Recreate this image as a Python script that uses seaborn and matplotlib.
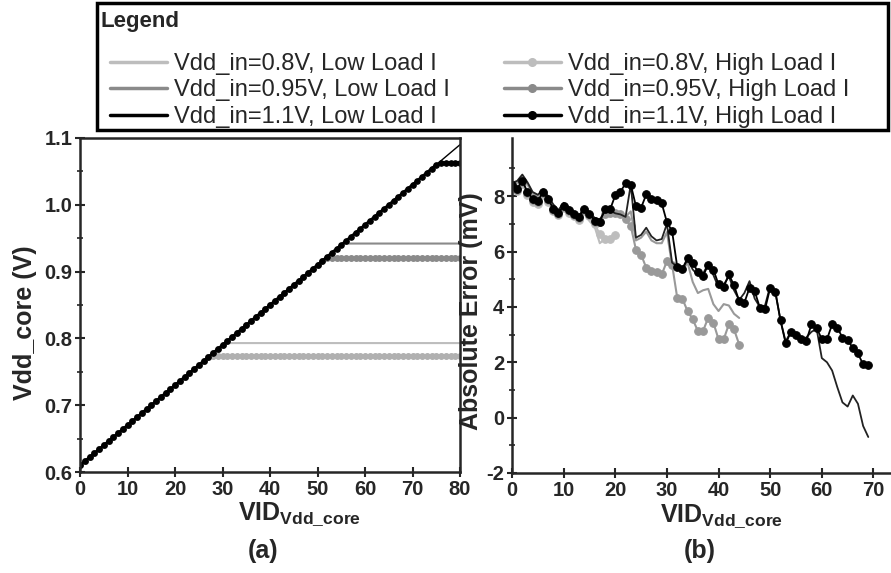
import matplotlib
matplotlib.use("Agg")
import matplotlib.pyplot as plt
import seaborn as sns
from matplotlib.lines import Line2D
from matplotlib.patches import Rectangle

# ---- panel (a): Vdd_core vs VID code ----
vid_a = list(range(81))
ramp_a = [0.610, 0.616, 0.622, 0.628, 0.634, 0.640, 0.646, 0.652, 0.658, 0.664,
          0.670, 0.676, 0.682, 0.688, 0.694, 0.700, 0.706, 0.712, 0.718, 0.724,
          0.730, 0.736, 0.742, 0.748, 0.754, 0.760, 0.766, 0.772, 0.778, 0.784,
          0.790, 0.796, 0.802, 0.808, 0.814, 0.820, 0.826, 0.832, 0.838, 0.844,
          0.850, 0.856, 0.862, 0.868, 0.874, 0.880, 0.886, 0.892, 0.898, 0.904,
          0.910, 0.916, 0.922, 0.928, 0.934, 0.940, 0.946, 0.952, 0.958, 0.964,
          0.970, 0.976, 0.982, 0.988, 0.994, 1.000, 1.006, 1.012, 1.018, 1.024,
          1.030, 1.036, 1.042, 1.048, 1.054, 1.060, 1.066, 1.072, 1.078, 1.084,
          1.090]
# regulated output once the input supply runs out of headroom
a_lo08 = ramp_a[:31] + [0.793] * 50
a_hi08 = ramp_a[:28] + [0.774] * 53
a_lo095 = ramp_a[:56] + [0.942] * 25
a_hi095 = ramp_a[:52] + [0.921] * 29
a_lo11 = ramp_a
a_hi11 = ramp_a[:76] + [1.063] * 5

# ---- panel (b): absolute error (mV) vs VID code ----
b_hi11 = [8.39, 8.27, 8.55, 8.15, 7.90, 7.82, 8.15, 7.90, 7.54, 7.40,
          7.66, 7.49, 7.37, 7.25, 7.54, 7.37, 7.12, 7.07, 7.52, 7.52,
          8.03, 8.16, 8.46, 8.42, 7.64, 7.58, 8.06, 7.90, 7.86, 7.74,
          7.06, 6.74, 5.45, 5.38, 5.76, 5.60, 5.26, 5.11, 5.53, 5.35,
          4.81, 4.73, 5.17, 4.78, 4.21, 4.15, 4.69, 4.57, 3.97, 3.91,
          4.69, 4.53, 3.52, 2.68, 3.09, 2.97, 2.83, 2.77, 3.37, 3.25,
          2.83, 2.83, 3.37, 3.25, 2.89, 2.80, 2.52, 2.32, 1.92, 1.89]
b_lo11 = [8.48, 8.55, 8.78, 8.50, 8.15, 8.05, 8.24, 8.00, 7.70, 7.50,
          7.76, 7.60, 7.40, 7.28, 7.62, 7.40, 7.22, 7.16, 7.45, 7.48,
          7.38, 7.34, 7.25, 8.42, 6.50, 6.60, 6.86, 6.55, 6.40, 6.45,
          7.00, 5.60, 5.45, 5.35, 5.71, 5.35, 5.15, 5.20, 5.55, 5.15,
          4.70, 4.80, 5.10, 4.60, 4.25, 4.50, 4.93, 4.30, 4.00, 4.05,
          4.75, 4.55, 3.50, 2.75, 3.10, 2.95, 2.72, 2.90, 3.10, 3.20,
          2.15, 2.00, 1.70, 1.10, 0.55, 0.40, 0.80, 0.50, -0.30, -0.70]
b_hi095 = [8.35, 8.22, 8.50, 8.10, 7.85, 7.78, 8.10, 7.85, 7.50, 7.36,
           7.62, 7.45, 7.33, 7.20, 7.50, 7.33, 7.08, 7.05, 7.34, 7.40,
           7.38, 7.34, 7.16, 6.92, 6.07, 5.89, 5.41, 5.29, 5.26, 5.17,
           5.65, 5.53, 4.33, 4.29, 3.85, 3.55, 3.13, 3.13, 3.61, 3.43,
           2.83, 2.83, 3.37, 3.19, 2.64]
b_lo095 = [8.42, 8.50, 8.70, 8.45, 8.10, 8.00, 8.20, 7.95, 7.65, 7.45,
           7.70, 7.55, 7.35, 7.22, 7.55, 7.35, 7.18, 7.12, 7.40, 7.42,
           7.35, 7.30, 7.25, 7.45, 6.40, 6.50, 6.72, 6.40, 6.30, 6.30,
           6.70, 5.50, 5.35, 5.30, 5.60, 4.90, 4.50, 4.60, 4.65, 4.10,
           3.85, 4.10, 4.05, 3.75, 3.60]
b_hi08 = [8.30, 8.20, 8.45, 8.05, 7.80, 7.72, 8.05, 7.80, 7.45, 7.32,
          7.58, 7.40, 7.28, 7.15, 7.45, 7.28, 7.00, 6.62, 6.45, 6.45, 6.60]
b_lo08 = [8.40, 8.45, 8.65, 8.40, 8.05, 7.95, 8.15, 7.90, 7.60, 7.40,
          7.65, 7.50, 7.30, 7.18, 7.50, 7.10, 6.90, 6.30, 6.45, 6.35, 6.55]

labels = ["Vdd_in=0.8V, Low Load I", "Vdd_in=0.95V, Low Load I",
          "Vdd_in=1.1V, Low Load I", "Vdd_in=0.8V, High Load I",
          "Vdd_in=0.95V, High Load I", "Vdd_in=1.1V, High Load I"]
c_light, c_mid, c_dark = "#bdbdbd", "#8a8a8a", "#000000"

sns.set_style("ticks")
plt.rcParams["font.family"] = ["Liberation Sans", "DejaVu Sans"]
plt.rcParams["axes.unicode_minus"] = False
plt.rcParams["mathtext.fontset"] = "custom"
plt.rcParams["mathtext.rm"] = "Liberation Sans:bold"
plt.rcParams["mathtext.bf"] = "Liberation Sans:bold"
plt.rcParams["mathtext.it"] = "Liberation Sans:bold"

fig = plt.figure(figsize=(8.91, 5.73), dpi=100)
ax1 = fig.add_axes([80 / 891, 101 / 573, 380 / 891, 334 / 573])
ax2 = fig.add_axes([512 / 891, 100 / 573, 379 / 891, 335 / 573])

# panel (a)
sns.lineplot(x=vid_a, y=a_lo08, ax=ax1, color=c_light, lw=1.5)
sns.lineplot(x=vid_a, y=a_hi08, ax=ax1, color="#b0b0b0", lw=1.5,
             marker="o", ms=4.2, mec="#b0b0b0")
sns.lineplot(x=vid_a, y=a_lo095, ax=ax1, color=c_mid, lw=1.5)
sns.lineplot(x=vid_a, y=a_hi095, ax=ax1, color=c_mid, lw=1.5,
             marker="o", ms=4.2, mec=c_mid)
sns.lineplot(x=vid_a, y=a_lo11, ax=ax1, color=c_dark, lw=1.0)
sns.lineplot(x=vid_a, y=a_hi11, ax=ax1, color=c_dark, lw=2.0,
             marker="o", ms=4.0, mec=c_dark)
ax1.set_xlim(0, 80)
ax1.set_ylim(0.6, 1.1)
ax1.set_xticks(range(0, 81, 10))
ax1.set_yticks([0.6, 0.7, 0.8, 0.9, 1.0, 1.1])
ax1.set_yticks([0.65, 0.75, 0.85, 0.95, 1.05], minor=True)
ax1.set_yticklabels(["0.6", "0.7", "0.8", "0.9", "1.0", "1.1"])

# panel (b)
sns.lineplot(x=list(range(len(b_lo08))), y=b_lo08, ax=ax2, color=c_light, lw=1.5)
sns.lineplot(x=list(range(len(b_hi08))), y=b_hi08, ax=ax2, color=c_light, lw=1.5,
             marker="o", ms=5.5, mec=c_light)
sns.lineplot(x=list(range(len(b_lo095))), y=b_lo095, ax=ax2, color="#999999", lw=1.5)
sns.lineplot(x=list(range(len(b_hi095))), y=b_hi095, ax=ax2, color="#999999", lw=1.5,
             marker="o", ms=5.5, mec="#999999")
sns.lineplot(x=list(range(len(b_lo11))), y=b_lo11, ax=ax2, color="#222222", lw=1.3)
sns.lineplot(x=list(range(len(b_hi11))), y=b_hi11, ax=ax2, color=c_dark, lw=1.3,
             marker="o", ms=5.5, mec=c_dark)
ax2.set_xlim(0, 73.4)
ax2.set_ylim(-2, 10.1)
ax2.set_xticks(range(0, 71, 10))
ax2.set_yticks([-2, 0, 2, 4, 6, 8])
ax2.set_yticks([-1, 1, 3, 5, 7, 9], minor=True)

for ax in (ax1, ax2):
    ax.tick_params(which="major", direction="inout", length=7, width=1.5,
                   labelsize=14.5, pad=2)
    ax.tick_params(which="minor", direction="inout", length=4, width=1.2)
    for t in ax.get_xticklabels() + ax.get_yticklabels():
        t.set_fontweight("bold")
    for s in ax.spines.values():
        s.set_linewidth(1.8)
ax2.spines["right"].set_visible(False)
ax2.spines["top"].set_visible(False)

xl = r"VID$_{\mathbf{Vdd\_core}}$"
ax1.set_xlabel(xl, fontsize=18, fontweight="bold")
ax2.set_xlabel(xl, fontsize=18, fontweight="bold")
ax1.xaxis.set_label_coords(220 / 380, -0.085)
ax2.xaxis.set_label_coords(210 / 379, -0.088)
ax1.set_ylabel("Vdd_core (V)", fontsize=18, fontweight="bold")
ax2.set_ylabel("Absolute Error (mV)", fontsize=18, fontweight="bold")
ax1.yaxis.set_label_coords(-0.113, 0.446)
ax2.yaxis.set_label_coords(-0.077, 0.484)

fig.text(263 / 891, 1 - 551 / 573, "(a)", fontsize=18, fontweight="bold",
         ha="center", va="center")
fig.text(700 / 891, 1 - 551 / 573, "(b)", fontsize=18, fontweight="bold",
         ha="center", va="center")

# legend box on top
fig.add_artist(Rectangle((97 / 891, 1 - 130 / 573), 791 / 891, 127 / 573,
                         transform=fig.transFigure, fill=False, lw=2.5,
                         ec="black"))
fig.text(100 / 891, 1 - 22 / 573, "Legend", fontsize=16, fontweight="bold",
         ha="left", va="center")
handles = [
    Line2D([], [], color=c_light, lw=2.5),
    Line2D([], [], color=c_mid, lw=2.5),
    Line2D([], [], color=c_dark, lw=2.5),
    Line2D([], [], color=c_light, lw=2.5, marker="o", ms=5.5),
    Line2D([], [], color=c_mid, lw=2.5, marker="o", ms=5.5),
    Line2D([], [], color=c_dark, lw=2.5, marker="o", ms=5.5),
]
fig.legend(handles, labels, loc="upper left",
           bbox_to_anchor=(110 / 891, 1 - 53 / 573), ncol=2, frameon=False,
           fontsize=17, handlelength=2.4, handletextpad=0.3,
           columnspacing=2.3, labelspacing=0.19, borderpad=0,
           borderaxespad=0)

fig.savefig("out.png", dpi=100)
